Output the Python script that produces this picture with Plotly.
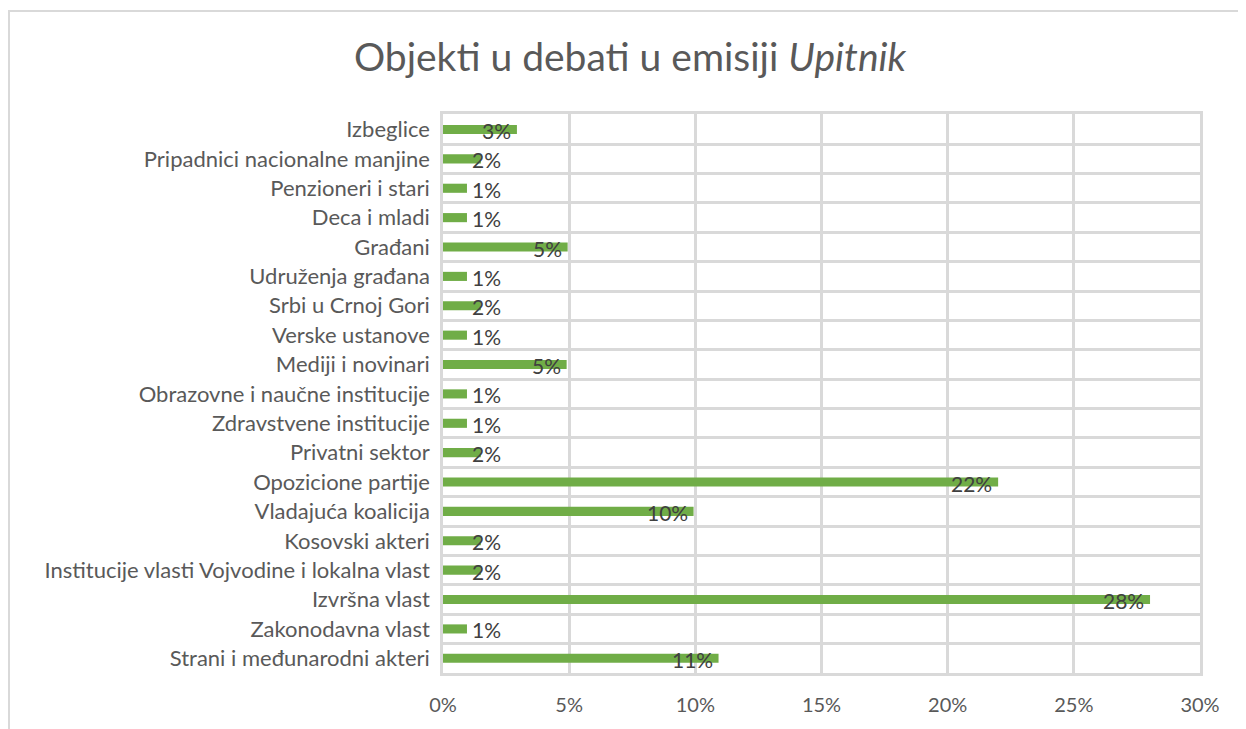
import plotly.graph_objects as go

categories = [
    "Izbeglice",
    "Pripadnici nacionalne manjine",
    "Penzioneri i stari",
    "Deca i mladi",
    "Građani",
    "Udruženja građana",
    "Srbi u Crnoj Gori",
    "Verske ustanove",
    "Mediji i novinari",
    "Obrazovne i naučne institucije",
    "Zdravstvene institucije",
    "Privatni sektor",
    "Opozicione partije",
    "Vladajuća koalicija",
    "Kosovski akteri",
    "Institucije vlasti Vojvodine i lokalna vlast",
    "Izvršna vlast",
    "Zakonodavna vlast",
    "Strani i međunarodni akteri",
]
values = [2.93, 1.5, 0.95, 0.95, 4.94, 0.95, 1.5, 0.95, 4.9, 0.95, 0.95, 1.5,
          22.0, 9.93, 1.5, 1.5, 28.02, 0.95, 10.92]
labels = [f"{v:.0f}%" for v in values]
tick_vals = [0, 5, 10, 15, 20, 25, 30]
tick_text = [f"{t}%" for t in tick_vals]

FONT = "Lato"
GRID = "#d9d9d9"
OFF = 8  # page body margin

fig = go.Figure()
fig.add_trace(go.Bar(
    x=values, y=categories, orientation="h",
    marker=dict(color="#70ad47", line=dict(width=0)),
    width=0.31, hoverinfo="x+y",
))

for cat, v, lab in zip(categories, values, labels):
    if v >= 2.5:
        fig.add_annotation(x=v, y=cat, text=lab, showarrow=False, xanchor="right",
                           xshift=-4, yshift=-1, font=dict(family=FONT, size=21, color="#404040"))
    else:
        fig.add_annotation(x=0, y=cat, text=lab, showarrow=False, xanchor="left",
                           xshift=27, yshift=-1, font=dict(family=FONT, size=21, color="#404040"))

# outer chart border
fig.add_shape(type="rect", xref="paper", yref="paper",
              x0=(9 - 443) / 757, x1=(1260 - 443) / 757,
              y0=-(760 - 673) / 559, y1=1 + (114 - 11) / 559,
              line=dict(color="#d9d9d9", width=2), fillcolor="rgba(0,0,0,0)", layer="below")

fig.update_layout(
    width=1246, height=729,
    margin=dict(l=443 - OFF, r=46 + OFF, t=114 - OFF, b=56 + OFF),
    paper_bgcolor="white", plot_bgcolor="white",
    showlegend=False,
    title=dict(
        text="Objekti u debati u emisiji <i>Upitnik</i>",
        x=(630 - OFF) / 1246, xref="container", xanchor="center",
        y=1 - (57 - OFF) / 729, yref="container", yanchor="middle",
        font=dict(family=FONT, size=39, color="#595959"),
    ),
)
fig.update_xaxes(
    range=[0, 30], tickvals=tick_vals, ticktext=tick_text,
    showgrid=True, gridcolor=GRID, gridwidth=2.5,
    zeroline=False, showline=True, mirror=True, linecolor=GRID, linewidth=2.5,
    ticks="outside", ticklen=12, tickcolor="rgba(0,0,0,0)",
    tickfont=dict(family=FONT, size=20, color="#595959"),
)
fig.update_yaxes(
    autorange="reversed", type="category", tickson="boundaries",
    showgrid=True, gridcolor=GRID, gridwidth=2.5,
    showline=True, mirror=True, linecolor=GRID, linewidth=2.5,
    ticks="", ticklabelstandoff=6,
    tickfont=dict(family=FONT, size=22, color="#595959"),
)

fig.write_html("out.html")
